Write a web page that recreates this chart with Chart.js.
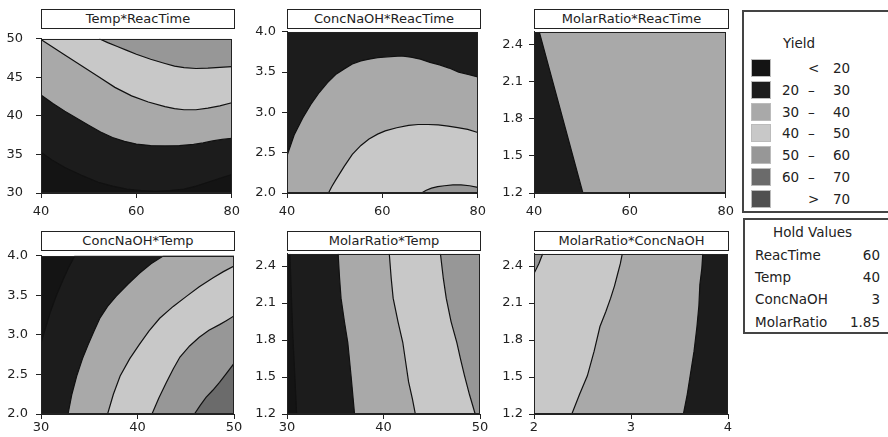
<!DOCTYPE html>
<html><head><meta charset="utf-8">
<script src="https://cdn.jsdelivr.net/npm/chart.js@4.4.0/dist/chart.umd.min.js"></script>
<style>
html,body{margin:0;padding:0;background:#fff;}
body{width:888px;height:437px;position:relative;overflow:hidden;font-family:"DejaVu Sans",sans-serif;color:#222;}
canvas{position:absolute;}
.ttl{position:absolute;box-sizing:border-box;border:1px solid #222;background:#fff;text-align:center;font-size:13px;white-space:nowrap;}
.box{position:absolute;box-sizing:border-box;border:2px solid #444;background:#fff;}
.t{position:absolute;font-size:13.5px;line-height:16px;white-space:nowrap;}
.sw{position:absolute;box-sizing:border-box;width:20px;height:18px;border:1px solid #bbb;}
</style>
</head><body>
<script>
// ---------- data ----------
const levelColors = ['#141414','#1c1c1c','#a9a9a9','#c8c8c8','#979797','#6b6b6b','#505050'];
const legendLo  = ['','20','30','40','50','60',''];
const legendSep = ['<','–','–','–','–','–','>'];
const legendHi  = ['20','30','40','50','60','70','70'];
const holdFactors = ['ReacTime','Temp','ConcNaOH','MolarRatio'];
const holdValues  = ['60','40','3','1.85'];

const reacTimeTicks = [40,60,80];       const reacTimeLabels = ['40','60','80'];
const tempXTicks    = [30,40,50];       const tempXLabels    = ['30','40','50'];
const tempYTicks    = [30,35,40,45,50]; const tempYLabels    = ['30','35','40','45','50'];
const concYTicks    = [2.0,2.5,3.0,3.5,4.0]; const concYLabels = ['2.0','2.5','3.0','3.5','4.0'];
const concXTicks    = [2,3,4];          const concXLabels    = ['2','3','4'];
const molarTicks    = [1.2,1.5,1.8,2.1,2.4]; const molarLabels = ['1.2','1.5','1.8','2.1','2.4'];

// contour lines [x, y] per panel
const p1_c20 = [[40,35.3],[42.5,34.2],[45,33.3],[48.5,32.3],[52,31.4],[55,30.9],[58,30.5],[61,30.3],[64,30.2],[67,30.3],[70,30.5],[72.5,30.9],[75,31.4],[77.5,31.9],[80,32.4]];
const p1_c30 = [[40,42.7],[42.5,41.6],[45,40.6],[47.5,39.7],[50,38.8],[52.5,37.9],[55,37.2],[57.5,36.7],[60,36.35],[63,36.15],[66,36.1],[69,36.15],[72,36.3],[74,36.5],[76,36.75],[78,36.95],[80,37.1]];
const p1_c40 = [[40,49.9],[42.5,48.9],[45,47.9],[48.5,46.5],[52,45.1],[55.5,43.7],[59,42.6],[62.5,41.8],[66,41.2],[68,40.95],[70,40.8],[72.5,40.8],[75,41.0],[77.5,41.3],[80,41.7]];
const p1_c50 = [[52.2,50],[54,49.5],[56,49.0],[58,48.5],[60,48.0],[63,47.35],[66,46.8],[68,46.45],[70,46.25],[72.5,46.15],[75,46.2],[77.5,46.3],[80,46.4]];

const p2_c30 = [[40,2.46],[41.5,2.72],[43.3,2.93],[45,3.1],[46.8,3.25],[48.5,3.37],[50.2,3.47],[52,3.54],[53.7,3.6],[55.5,3.64],[57.2,3.66],[59,3.68],[61,3.69],[64,3.7],[66,3.685],[68,3.66],[70,3.62],[72,3.59],[74,3.55],[76,3.5],[78,3.47],[80,3.44]];
const p2_c40 = [[48.7,2.0],[49.4,2.08],[50.2,2.16],[52,2.33],[53.7,2.48],[55.5,2.59],[57.2,2.67],[59,2.73],[60.6,2.77],[63,2.81],[65.5,2.84],[67.5,2.85],[69.6,2.85],[71.7,2.845],[73.8,2.83],[75.8,2.81],[77.9,2.79],[80,2.75]];
const p2_c50 = [[68.2,2.0],[69.2,2.035],[70.3,2.06],[71.6,2.08],[73,2.09],[74.8,2.1],[76.5,2.1],[78.3,2.09],[80,2.07]];

const p3_c30 = [[41.1,2.5],[50.2,1.2],[80,1.2]];

const p4_c20 = [[30,2.9],[30.5,3.1],[31,3.3],[31.6,3.5],[32.3,3.7],[32.9,3.86],[33.5,4.0],[50,4.0]];
const p4_c30 = [[32.8,2.0],[33.2,2.25],[33.7,2.48],[34.3,2.7],[34.9,2.88],[35.5,3.05],[36.1,3.21],[36.9,3.36],[37.8,3.49],[39,3.64],[40.2,3.78],[41.4,3.9],[42.7,4.0],[50,4.0]];
const p4_c40 = [[36.9,2.0],[37.5,2.25],[38.2,2.48],[39.2,2.7],[40.2,2.88],[41.2,3.05],[42.3,3.21],[43.7,3.36],[45.1,3.49],[46.4,3.61],[47.8,3.72],[48.9,3.8],[50,3.87]];
const p4_c50 = [[41.5,2.0],[42.2,2.2],[43.0,2.4],[43.7,2.57],[44.4,2.72],[45.4,2.86],[46.4,2.97],[47.4,3.06],[48.5,3.13],[49.2,3.18],[50,3.24]];
const p4_c60 = [[45.9,2.0],[46.5,2.11],[47.1,2.21],[47.8,2.3],[48.5,2.4],[49.2,2.51],[50,2.64]];

const p5_c20 = [[30.3,2.5],[30.6,1.85],[31.0,1.2],[50,1.2]];
const p5_c30 = [[35.3,2.5],[35.45,2.3],[35.6,2.14],[35.95,1.95],[36.3,1.78],[36.65,1.5],[37.0,1.2],[50,1.2]];
const p5_c40 = [[40.6,2.5],[40.8,2.3],[41.0,2.14],[41.5,1.95],[42.0,1.78],[42.3,1.62],[42.6,1.46],[43.0,1.32],[43.3,1.2],[50,1.2]];
const p5_c50 = [[45.9,2.5],[46.2,2.3],[46.5,2.14],[47.0,1.95],[47.6,1.78],[48.0,1.64],[48.4,1.51],[48.9,1.36],[49.5,1.2],[50,1.2]];

const p6_c30 = [[2,1.2],[3.54,1.2],[3.58,1.36],[3.61,1.51],[3.65,1.71],[3.68,1.91],[3.70,2.08],[3.71,2.25],[3.73,2.38],[3.74,2.5]];
const p6_c40 = [[2,1.2],[2.39,1.2],[2.47,1.36],[2.55,1.51],[2.62,1.71],[2.68,1.91],[2.74,2.03],[2.79,2.14],[2.83,2.24],[2.86,2.33],[2.89,2.42],[2.91,2.5]];
const p6_c50 = [[2,2.34],[2.05,2.42],[2.09,2.5]];

// ---------- panels (layout + references to data) ----------
const panels = [
 {title:'Temp*ReacTime', pl:41, pt:28, pw:193, ph:165, x:[40,80], y:[30,50],
  xt:reacTimeTicks, xl:reacTimeLabels, yt:tempYTicks, yl:tempYLabels, ypad:13, xpad:6, base:0,
  cs:[[p1_c20,1,'end'],[p1_c30,2,'end'],[p1_c40,3,'end'],[p1_c50,4,'end']]},
 {title:'ConcNaOH*ReacTime', pl:287, pt:28, pw:193, ph:165, x:[40,80], y:[2,4],
  xt:reacTimeTicks, xl:reacTimeLabels, yt:concYTicks, yl:concYLabels, ypad:6, xpad:6, base:1,
  cs:[[p2_c30,2,'start'],[p2_c40,3,'start'],[p2_c50,4,'start']]},
 {title:'MolarRatio*ReacTime', pl:534, pt:28, pw:194, ph:165, x:[40,80], y:[1.2,2.5],
  xt:reacTimeTicks, xl:reacTimeLabels, yt:molarTicks, yl:molarLabels, ypad:6, xpad:6, base:1,
  cs:[[p3_c30,2,'end']]},
 {title:'ConcNaOH*Temp', pl:41, pt:250, pw:193, ph:164, x:[30,50], y:[2,4],
  xt:tempXTicks, xl:tempXLabels, yt:concYTicks, yl:concYLabels, ypad:8, xpad:1, base:0,
  cs:[[p4_c20,1,'start'],[p4_c30,2,'start'],[p4_c40,3,'start'],[p4_c50,4,'start'],[p4_c60,5,'start']]},
 {title:'MolarRatio*Temp', pl:287, pt:250, pw:193, ph:164, x:[30,50], y:[1.2,2.5],
  xt:tempXTicks, xl:tempXLabels, yt:molarTicks, yl:molarLabels, ypad:6, xpad:1, base:0,
  cs:[[p5_c20,1,'end'],[p5_c30,2,'end'],[p5_c40,3,'end'],[p5_c50,4,'end']]},
 {title:'MolarRatio*ConcNaOH', pl:534, pt:250, pw:194, ph:164, x:[2,4], y:[1.2,2.5],
  xt:concXTicks, xl:concXLabels, yt:molarTicks, yl:molarLabels, ypad:6, xpad:1, base:1,
  cs:[[p6_c30,2,'end'],[p6_c40,3,'end'],[p6_c50,4,'end']]}
];

const frame = {id:'frame', afterDatasetsDraw(c){
  const a=c.chartArea, x=c.ctx; x.save(); x.strokeStyle='#222'; x.lineWidth=1;
  x.strokeRect(Math.round(a.left)+0.5, Math.round(a.top)+0.5, Math.round(a.right-a.left)-1, Math.round(a.bottom-a.top)-1);
  x.restore();
}};

const FONT = {family:'DejaVu Sans', size:13};
panels.forEach(p=>{
  const L=45,T=10,R=12,B=30;
  const W=p.pw+L+R, H=p.ph+T+B;
  const cv=document.createElement('canvas');
  cv.width=W; cv.height=H;
  cv.style.left=(p.pl-L)+'px'; cv.style.top=(p.pt-T)+'px';
  cv.style.width=W+'px'; cv.style.height=H+'px';
  document.body.appendChild(cv);

  const t=document.createElement('div');
  t.className='ttl'; t.textContent=p.title;
  t.style.left=p.pl+'px'; t.style.top=(p.pt-19)+'px';
  t.style.width=(p.pw+1)+'px'; t.style.height='20px'; t.style.lineHeight='18px';
  document.body.appendChild(t);

  const ds=[];
  ds.push({data:[{x:p.x[0],y:p.y[0]},{x:p.x[1],y:p.y[0]}], fill:'end',
    backgroundColor:levelColors[p.base], borderWidth:0, pointRadius:0, showLine:true});
  p.cs.forEach(c=>ds.push({data:c[0].map(q=>({x:q[0],y:q[1]})), fill:c[2],
    backgroundColor:levelColors[c[1]], borderColor:'#111', borderWidth:1.2,
    pointRadius:0, showLine:true, tension:0}));
  ds.reverse();

  new Chart(cv,{type:'scatter', data:{datasets:ds},
    options:{responsive:false, animation:false, devicePixelRatio:1,
      layout:{autoPadding:false, padding:{left:0,top:T,right:R,bottom:0}},
      plugins:{legend:{display:false}, tooltip:{enabled:false}},
      scales:{
        x:{type:'linear', min:p.x[0], max:p.x[1],
          afterFit:s=>{s.height=B;},
          afterBuildTicks:s=>{s.ticks=p.xt.map(v=>({value:v}));},
          ticks:{autoSkip:false, maxRotation:0, padding:p.xpad, color:'#222', font:FONT,
                 callback:(v,k)=>p.xl[k]},
          grid:{drawOnChartArea:false, tickLength:5, color:'#222'},
          border:{color:'#222'}},
        y:{type:'linear', min:p.y[0], max:p.y[1],
          afterFit:s=>{s.width=L;},
          afterBuildTicks:s=>{s.ticks=p.yt.map(v=>({value:v}));},
          ticks:{autoSkip:false, padding:p.ypad, color:'#222', font:FONT,
                 callback:(v,k)=>p.yl[k]},
          grid:{drawOnChartArea:false, tickLength:5, color:'#222'},
          border:{color:'#222'}}
      }},
    plugins:[frame]});
});

// ---------- legend box ----------
const lg=document.createElement('div'); lg.className='box';
lg.style.cssText='left:742px;top:10px;width:150px;height:203px;';
let h='<div class="t" style="left:39px;top:23px;">Yield</div>';
levelColors.forEach((c,i)=>{
  const top=47+i*21.8;
  h+='<div class="sw" style="left:7px;top:'+top+'px;background:'+c+';"></div>';
  const ty=top+1;
  if(legendLo[i]) h+='<div class="t" style="left:38px;top:'+ty+'px;">'+legendLo[i]+'</div>';
  h+='<div class="t" style="left:64px;top:'+ty+'px;">'+legendSep[i]+'</div>';
  h+='<div class="t" style="left:89px;top:'+ty+'px;">'+legendHi[i]+'</div>';
});
lg.innerHTML=h; document.body.appendChild(lg);

const hb=document.createElement('div'); hb.className='box';
hb.style.cssText='left:743px;top:218px;width:147px;height:116px;';
let hh='<div class="t" style="left:28px;top:4px;">Hold Values</div>';
holdFactors.forEach((f,i)=>{
  const top=[27,49,71,94][i];
  hh+='<div class="t" style="left:10px;top:'+top+'px;">'+f+'</div>';
  hh+='<div class="t" style="right:8px;top:'+top+'px;">'+holdValues[i]+'</div>';
});
hb.innerHTML=hh; document.body.appendChild(hb);
</script>
</body></html>
